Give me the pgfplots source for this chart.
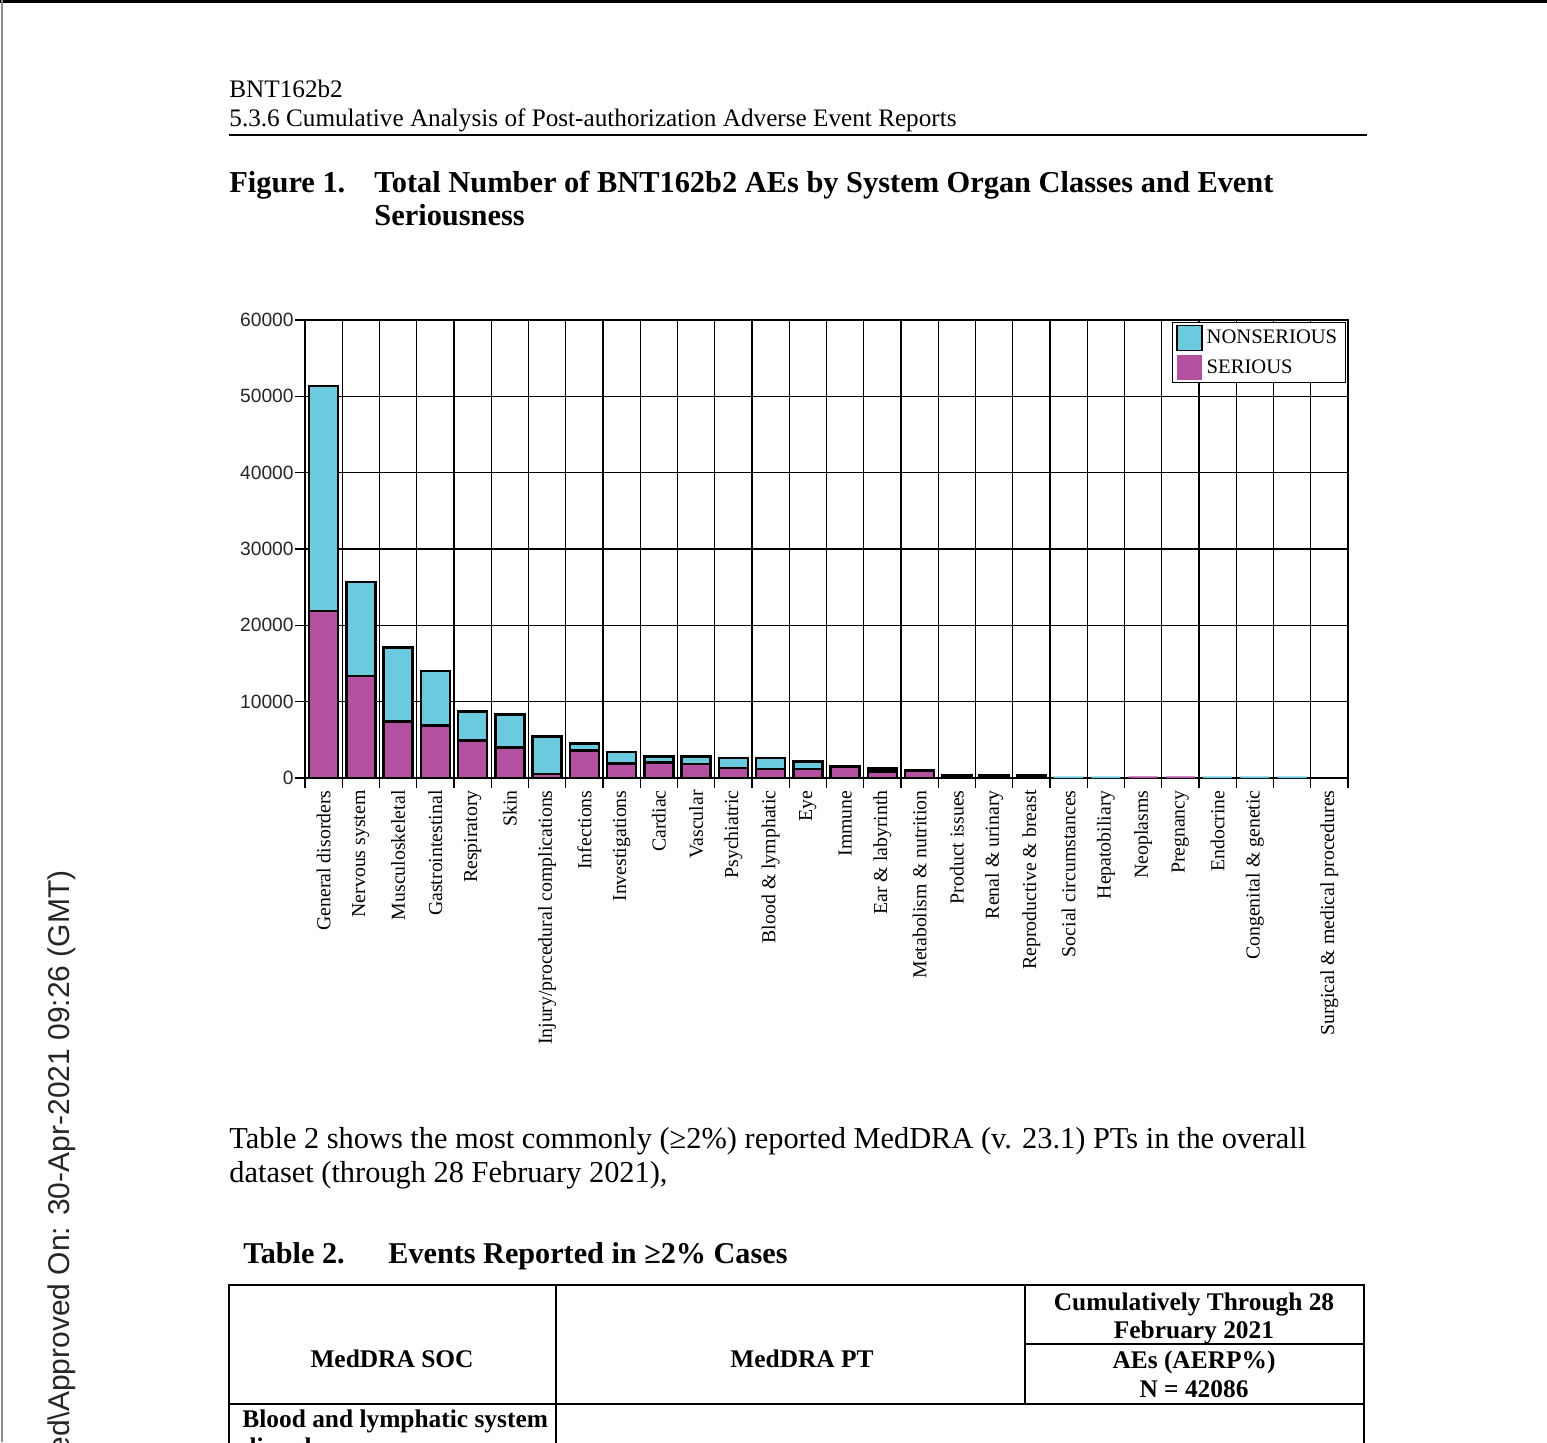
\documentclass[border=0pt]{standalone}
\usepackage{fontspec}
\setmainfont{Liberation Serif}
\newfontfamily\arial{Liberation Sans}
\usepackage{pgfplots}
\usepackage{pgfplotstable}
\pgfplotsset{compat=1.18}
\definecolor{nsCyan}{RGB}{108,202,222}
\definecolor{sMag}{RGB}{180,80,160}
\newcommand\fs[1]{\fontsize{#1}{#1}\selectfont}

% idx serious nonserious tinyS tinyNS
\pgfplotstableread{
idx serious nonserious tinyS tinyNS
0  21900 29450 0   0
1  13400 12300 0   0
2  7400  9700  0   0
3  6900  7150  0   0
4  4900  3800  0   0
5  4000  4300  0   0
6  550   4900  0   0
7  3600  900   0   0
8  1900  1500  0   0
9  2050  750   0   0
10 1800  1000  0   0
11 1350  1250  0   0
12 1150  1450  0   0
13 1150  1000  0   0
14 1450  80    0   0
15 850   420   0   0
16 900   170   0   0
17 250   170   0   0
18 200   180   0   0
19 200   160   0   0
20 0     0     0   220
21 0     0     0   200
22 0     0     220 0
23 0     0     220 0
24 0     0     0   200
25 0     0     0   200
26 0     0     0   200
27 0     0     0   0
}\soc

\begin{document}
\begin{tikzpicture}
\begin{scope}[x=0.5pt,y=-0.5pt]
\path[use as bounding box] (0,0) rectangle (1547,1442);
\fill[white] (0,0) rectangle (1547,1442);
\fill[black] (0,0) rectangle (1547,3);
\draw[black!45, line width=1pt] (2,0) -- (2,1442);
% header
\node[anchor=base west, inner sep=0, font=\fs{12.6}] at (229,97) {BNT162b2};
\node[anchor=base west, inner sep=0, font=\fs{12.6}] at (229,126) {5.3.6 Cumulative Analysis of Post-authorization Adverse Event Reports};
\draw[line width=0.8pt] (229,135) -- (1367,135);
% title
\node[anchor=base west, inner sep=0, font=\bfseries\fs{15.2}] at (229,192) {Figure 1.};
\node[anchor=base west, inner sep=0, font=\bfseries\fs{15.2}] at (374,192) {Total Number of BNT162b2 AEs by System Organ Classes and Event};
\node[anchor=base west, inner sep=0, font=\bfseries\fs{15.2}] at (374,225) {Seriousness};
% paragraph
\node[anchor=base west, inner sep=0, font=\fs{15.2}] at (229,1148) {Table 2 shows the most commonly (≥2\%) reported MedDRA (v. 23.1) PTs in the overall};
\node[anchor=base west, inner sep=0, font=\fs{15.2}] at (229,1182) {dataset (through 28 February 2021),};
% table heading
\node[anchor=base west, inner sep=0, font=\bfseries\fs{15.1}] at (243,1263) {Table 2.};
\node[anchor=base west, inner sep=0, font=\bfseries\fs{15.1}] at (388,1263) {Events Reported in ≥2\% Cases};
% table
\begin{scope}[line width=0.6pt]
\draw (229,1450) -- (229,1285) -- (1364,1285) -- (1364,1450);
\draw (556,1285) -- (556,1450);
\draw (1025,1285) -- (1025,1404);
\draw (1025,1344) -- (1364,1344);
\draw (229,1404) -- (1364,1404);
\end{scope}
\begin{scope}[every node/.style={inner sep=0, font=\bfseries\fs{12.7}}]
\node[anchor=base] at (1194,1310) {Cumulatively Through 28};
\node[anchor=base] at (1194,1338) {February 2021};
\node[anchor=base] at (392,1367) {MedDRA SOC};
\node[anchor=base] at (802,1367) {MedDRA PT};
\node[anchor=base] at (1194,1368) {AEs (AERP\%)};
\node[anchor=base] at (1194,1397) {N = 42086};
\node[anchor=base west] at (242,1427) {Blood and lymphatic system};
\node[anchor=base west] at (242,1455) {disorders};
\end{scope}
% watermark
\node[rotate=90, anchor=east, inner sep=0, font=\arial\fs{15}, text=black!85] at (62,870) {090177e196ea1800\textbackslash Approved\textbackslash Approved On: 30-Apr-2021 09:26 (GMT)};
\coordinate (O) at (305,778);
\end{scope}

\begin{axis}[
  at={(O)}, anchor=south west,
  width=521.5pt, height=229pt, scale only axis,
  xmin=-0.5, xmax=27.5, ymin=0, ymax=60000,
  ybar stacked, bar width=0.78,
  xtick={-0.5,0.5,...,27.5},
  x tick label as interval,
  xticklabels={General disorders,Nervous system,Musculoskeletal,Gastrointestinal,Respiratory,Skin,Injury/procedural complications,Infections,Investigations,Cardiac,Vascular,Psychiatric,Blood \& lymphatic,Eye,Immune,Ear \& labyrinth,Metabolism \& nutrition,Product issues,Renal \& urinary,Reproductive \& breast,Social circumstances,Hepatobiliary,Neoplasms,Pregnancy,Endocrine,Congenital \& genetic,{},Surgical \& medical procedures},
  ytick={0,10000,...,60000},
  scaled y ticks=false,
  grid=major, major grid style={black, line width=0.65pt},
  axis line style={black, line width=0.8pt},
  tick align=outside, major tick length=5pt,
  tick style={black, line width=0.65pt},
  xtick pos=bottom, ytick pos=left,
  xticklabel style={rotate=90, anchor=east, font=\fs{9.9}, inner sep=1pt},
  yticklabel style={font=\arial\fs{9.6}, text=black!85, inner sep=0.5pt},
  /pgf/number format/assume math mode=true,
  /pgf/number format/1000 sep={},
  legend style={at={(rel axis cs:0.998,0.996)}, anchor=north east, draw=black, line width=0.7pt, font=\fs{10.3}, inner xsep=2pt, inner ysep=1pt, row sep=2pt, fill=white},
  legend cell align=left,
  reverse legend,
]
\addplot[fill=sMag, draw=black, line width=1.2pt,
  legend image code/.code={\draw[fill=sMag, draw=none] (0pt,-6pt) rectangle (12.5pt,6.5pt);}]
  table[x=idx, y=serious] {\soc};
\addlegendentry{SERIOUS}
\addplot[fill=nsCyan, draw=black, line width=1.2pt,
  legend image code/.code={\draw[fill=nsCyan, draw=black, line width=0.7pt] (0pt,-6pt) rectangle (12.5pt,6.5pt);}]
  table[x=idx, y=nonserious] {\soc};
\addlegendentry{NONSERIOUS}
\addplot[fill=sMag, draw=none, forget plot] table[x=idx, y=tinyS] {\soc};
\addplot[fill=nsCyan, draw=none, forget plot] table[x=idx, y=tinyNS] {\soc};
\end{axis}
\end{tikzpicture}
\end{document}
